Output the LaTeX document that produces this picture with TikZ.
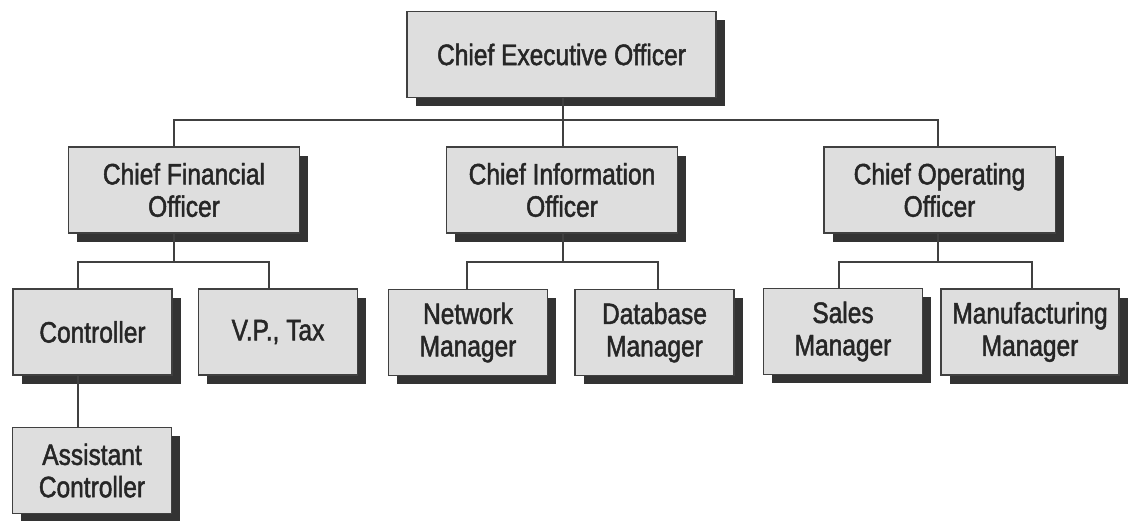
\documentclass[tikz,border=0pt]{standalone}
\usepackage{fontspec}
\setmainfont[FakeStretch=0.83, FakeBold=1.6]{Liberation Sans}
\usepackage{tikz}
\usetikzlibrary{calc}
\usetikzlibrary{positioning}
\usetikzlibrary{shadows}
\usepackage{xcolor}

\begin{document}
\begin{tikzpicture}[
		x=0.025cm, y=-0.025cm,
		box/.style = {rectangle, draw=black!75, line width=0.9pt, fill=black!13, text=black!85,
			align=center, inner sep=0pt, minimum height=2.15cm,
			font=\fontsize{21}{23}\selectfont,
			drop shadow={shadow xshift=0.22cm, shadow yshift=-0.22cm, fill=black!80, opacity=1}},
		ceo/.style = {box, minimum width=7.72cm},
		chief/.style = {box, minimum width=5.78cm},
		staff/.style = {box, minimum width=3.98cm},
		l/.style = {draw=black!75, line width=0.9pt}
		]
		\useasboundingbox (0,0) rectangle (1130,520);
		
		%Nodes
		\node[ceo]		(ceo)	at	(561.5, 54.5)	{Chief Executive Officer};
		\node[chief]	(cfo)	at	(184, 190)		{Chief Financial\\Officer};
		\node[chief]	(cio)	at	(562, 190)		{Chief Information\\Officer};
		\node[chief]	(coo)	at	(939.5, 190)	{Chief Operating\\Officer};
		\node[staff]	(ctrl)	at	(92.5, 332)		{Controller};
		\node[staff]	(tax)	at	(278, 332)		{V.P., Tax};
		\node[staff]	(net)	at	(468, 332.5)	{Network\\Manager};
		\node[staff]	(db)	at	(654.5, 332.5)	{Database\\Manager};
		\node[staff]	(sales)	at	(843, 331.5)	{Sales\\Manager};
		\node[staff, minimum width=4.45cm]	(mfg)	at	(1030, 332)	{Manufacturing\\Manager};
		\node[staff]	(asst)	at	(92, 470.5)		{Assistant\\Controller};
		
		%Bus coordinates
		\coordinate (bus)	at	(563, 120);
		\coordinate (bcfo)	at	(174, 120);
		\coordinate (bcoo)	at	(938, 120);
		\coordinate (dctrl)	at	(78, 262);
		\coordinate (dtax)	at	(269, 262);
		\coordinate (dnet)	at	(467, 262);
		\coordinate (ddb)	at	(658, 262);
		\coordinate (dsales)	at	(839, 262);
		\coordinate (dmfg)	at	(1032, 262);
		
		%Lines
		\draw[l]	(ceo.south -| bus)	--	(cio.north -| bus);
		\draw[l]	(cfo.north -| bcfo)	--	(bcfo)	--	(bcoo)	--	(coo.north -| bcoo);
		
		\draw[l]	(cfo.south -| bcfo)	--	(dctrl -| bcfo);
		\draw[l]	(ctrl.north -| dctrl)	--	(dctrl)	--	(dtax)	--	(tax.north -| dtax);
		\draw[l]	(cio.south -| bus)	--	(dnet -| bus);
		\draw[l]	(net.north -| dnet)	--	(dnet)	--	(ddb)	--	(db.north -| ddb);
		\draw[l]	(coo.south -| bcoo)	--	(dsales -| bcoo);
		\draw[l]	(sales.north -| dsales)	--	(dsales)	--	(dmfg)	--	(mfg.north -| dmfg);
		
		\draw[l]	(ctrl.south -| dctrl)	--	(asst.north -| dctrl);
	\end{tikzpicture}
\end{document}
